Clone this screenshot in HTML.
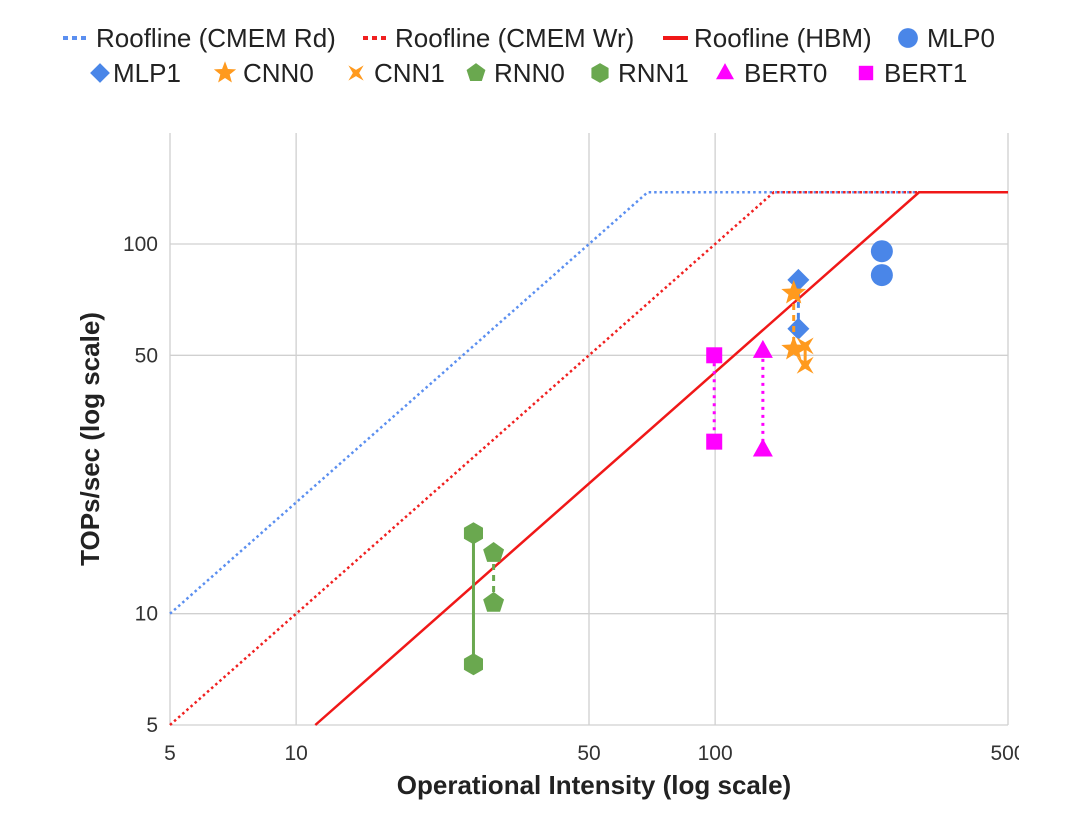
<!DOCTYPE html>
<html><head><meta charset="utf-8"><style>
html,body{margin:0;padding:0;background:#fff;}
svg{display:block;font-family:"Liberation Sans",Arial,sans-serif;}
</style></head><body>
<svg id="chart" width="1080" height="822" viewBox="0 0 1080 822" xmlns="http://www.w3.org/2000/svg">
<defs><clipPath id="cl"><rect x="0" y="0" width="1019" height="822"/></clipPath></defs>
<g id="grid"></g>
<g id="lines"></g>
<g id="marks"></g>
<g id="ticks" clip-path="url(#cl)"></g>
<text x="0" y="0" transform="translate(99,439) rotate(-90)" text-anchor="middle" font-size="26" font-weight="bold" fill="#222">TOPs/sec (log scale)</text>
<text x="594" y="794" text-anchor="middle" font-size="26" font-weight="bold" fill="#222">Operational Intensity (log scale)</text>
<g id="legend"></g>
</svg>
<script>
const xTicks=[5,10,50,100,500];
const yTicks=[5,10,50,100];
const peak=138;
const bwRd=2, bwWr=1, bwHBM=0.45;
const seriesNames=["MLP0","MLP1","CNN0","CNN1","RNN0","RNN1","BERT0","BERT1"];
const seriesX=[250,158,154,164,29.6,26.5,130,99.5];
const seriesYHigh=[95.6,80,73.7,53,14.6,16.5,51.4,50];
const seriesYLow=[82.4,59,52,47,10.7,7.3,27.8,29.2];

const X0=170,X1=1008,Y0=725,YT=133;
const xs=v=>X0+(Math.log10(v)-Math.log10(5))/(Math.log10(500)-Math.log10(5))*(X1-X0);
const ys=v=>Y0-(Math.log10(v)-Math.log10(5))/(Math.log10(100)-Math.log10(5))*(Y0-244);
const NS="http://www.w3.org/2000/svg";
function mk(parent,tag,attrs){const e=document.createElementNS(NS,tag);for(const k in attrs)e.setAttribute(k,attrs[k]);parent.appendChild(e);return e;}
const grid=document.getElementById('grid'),lines=document.getElementById('lines'),marks=document.getElementById('marks'),ticks=document.getElementById('ticks'),legend=document.getElementById('legend');
xTicks.forEach(t=>{const l=mk(grid,'line',{x1:xs(t),x2:xs(t),y1:YT,y2:Y0,stroke:'#d0d0d0','stroke-width':1.3});


const tx=mk(ticks,'text',{x:xs(t),y:760,'text-anchor':'middle','font-size':21,fill:'#333'});tx.textContent=t;

});
yTicks.forEach(t=>{const l=mk(grid,'line',{x1:X0,x2:X1,y1:ys(t),y2:ys(t),stroke:'#d0d0d0','stroke-width':1.3});


const tx=mk(ticks,'text',{x:158,y:ys(t)+7,'text-anchor':'end','font-size':21,fill:'#333'});tx.textContent=t;

});
function roof(bw,color,dash,name){
  const xr=peak/bw;let xa=5,ya=bw*5;
  if(ya<5){xa=5/bw;ya=5;}
  const d=`M${xs(xa)},${ys(ya)} L${xs(xr)},${ys(peak)} L${X1},${ys(peak)}`;
  const p=mk(lines,'path',{d:d,fill:'none',stroke:color,'stroke-width':2.5,'stroke-dasharray':dash||'none'});
  
  
}
roof(bwRd,'#5b8ff0','2.5 3','roofline-cmem-rd');
roof(bwWr,'#f02020','2.5 3','roofline-cmem-wr');
roof(bwHBM,'#f01818',null,'roofline-hbm');
const colors=['#4a86e8','#4a86e8','#ff9a1e','#ff9a1e','#6aa84f','#6aa84f','#ff00ff','#ff00ff'];
const shapes=['circle','diamond','star','xstar','pentagon','hexagon','triangle','square'];
const conn=[null,'6 5','6 5',null,'6 5',null,'3 5','3 5'];
function poly(n,r,rot){let p=[];for(let i=0;i<n;i++){const a=rot+i*2*Math.PI/n;p.push((r*Math.cos(a)).toFixed(2)+','+(r*Math.sin(a)).toFixed(2));}return p.join(' ');}
function star(n,r1,r2,rot){let p=[];for(let i=0;i<2*n;i++){const r=i%2?r2:r1;const a=rot+i*Math.PI/n;p.push((r*Math.cos(a)).toFixed(2)+','+(r*Math.sin(a)).toFixed(2));}return p.join(' ');}
function marker(g,shape,cx,cy,c,scale){
  scale=scale||1;let e;const t=`translate(${cx},${cy}) scale(${scale})`;
  const up=-Math.PI/2;
  if(shape==='circle')e=mk(g,'circle',{cx:0,cy:0,r:11,fill:c,transform:t});
  else if(shape==='diamond')e=mk(g,'polygon',{points:poly(4,11,up),fill:c,transform:t});
  else if(shape==='star')e=mk(g,'polygon',{points:star(5,13,5.5,up),fill:c,transform:t});
  else if(shape==='xstar')e=mk(g,'polygon',{points:star(4,12,3.5,Math.PI/4),fill:c,transform:t});
  else if(shape==='pentagon')e=mk(g,'polygon',{points:poly(5,11,up),fill:c,transform:t});
  else if(shape==='hexagon')e=mk(g,'polygon',{points:poly(6,11,up),fill:c,transform:t});
  else if(shape==='triangle')e=mk(g,'polygon',{points:'0,-11 10,7 -10,7',fill:c,transform:t});
  else e=mk(g,'rect',{x:-8,y:-8,width:16,height:16,fill:c,transform:t});
  return e;
}
seriesNames.forEach((n,i)=>{
  const g=mk(marks,'g',{});
  
  
  const cx=xs(seriesX[i]);
  if(i>0){const l=mk(g,'line',{x1:cx,x2:cx,y1:ys(seriesYHigh[i]),y2:ys(seriesYLow[i]),stroke:colors[i],'stroke-width':3,'stroke-dasharray':conn[i]||'none'});
  
  }
  [seriesYHigh[i],seriesYLow[i]].forEach((v,k)=>{const m=marker(g,shapes[i],cx,ys(v),colors[i]);
  
  });
});
const leg=[
 {t:'Roofline (CMEM Rd)',kind:'line',c:'#5b8ff0',dash:'5 4',x:63,y:38,tx:96},
 {t:'Roofline (CMEM Wr)',kind:'line',c:'#f02020',dash:'5 4',x:363,y:38,tx:395},
 {t:'Roofline (HBM)',kind:'line',c:'#f01818',dash:null,x:663,y:38,tx:694},
 {t:'MLP0',kind:'circle',c:colors[0],x:908,y:38,tx:927},
 {t:'MLP1',kind:'diamond',c:colors[1],x:100,y:73,tx:113},
 {t:'CNN0',kind:'star',c:colors[2],x:225,y:73,tx:243},
 {t:'CNN1',kind:'xstar',c:colors[3],x:356,y:73,tx:374},
 {t:'RNN0',kind:'pentagon',c:colors[4],x:476,y:73,tx:494},
 {t:'RNN1',kind:'hexagon',c:colors[5],x:600,y:73,tx:618},
 {t:'BERT0',kind:'triangle',c:colors[6],x:725,y:73,tx:744},
 {t:'BERT1',kind:'square',c:colors[7],x:866,y:73,tx:884}];
leg.forEach(o=>{
  const g=mk(legend,'g',{});
  
  
  if(o.kind==='line')mk(g,'line',{x1:o.x,x2:o.x+25,y1:o.y,y2:o.y,stroke:o.c,'stroke-width':4,'stroke-dasharray':o.dash||'none'});
  else marker(g,o.kind,o.x,o.y,o.c,0.9);
  const t=mk(g,'text',{x:o.tx,y:o.y+9,'font-size':26,fill:'#222'});t.textContent=o.t;
});
</script>
</body></html>
